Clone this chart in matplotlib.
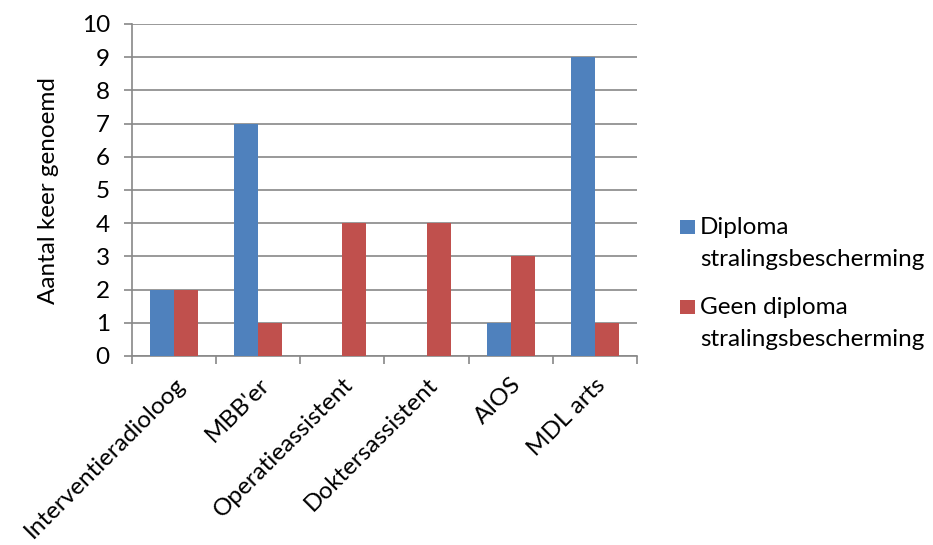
import numpy as np
import matplotlib.pyplot as plt
from matplotlib.patches import Rectangle

plt.rcParams['font.family'] = ['Lato', 'DejaVu Sans']

categories = ['Interventieradioloog', "MBB'er", 'Operatieassistent',
              'Doktersassistent', 'AIOS', 'MDL arts']
diploma = [2, 7, 0, 0, 1, 9]
geen_diploma = [2, 1, 4, 4, 3, 1]
series_names = [['Diploma', 'stralingsbescherming'],
                ['Geen diploma', 'stralingsbescherming']]

blue = '#4F81BD'
red = '#C0504D'
grid = '#888888'
fs = 17.5

fig = plt.figure(figsize=(9.33, 5.45), dpi=100)
ax = fig.add_axes([0.1415, 0.3468, 0.5412, 0.6092])

x = np.arange(len(categories))
w = 0.286
ax.bar(x - w / 2, diploma, width=w, color=blue, zorder=3)
ax.bar(x + w / 2, geen_diploma, width=w, color=red, zorder=3)

ax.set_xlim(-0.5, len(categories) - 0.5)
ax.set_ylim(0, 10)
ax.set_yticks(range(0, 11))
ax.yaxis.grid(True, color=grid, linewidth=1.2, zorder=0)

for s in ['top', 'right']:
    ax.spines[s].set_visible(False)
for s in ['left', 'bottom']:
    ax.spines[s].set_color(grid)
    ax.spines[s].set_linewidth(1.2)

# category boundaries get the tick marks, centres get the labels
ax.set_xticks(np.arange(-0.5, len(categories)), minor=True)
ax.set_xticks(x)
ax.set_xticklabels(categories, rotation=45, ha='right', va='top',
                   rotation_mode='anchor', fontsize=fs)
ax.tick_params(axis='x', which='major', length=0, pad=13)
ax.tick_params(axis='x', which='minor', length=6, width=1.2, color=grid, direction='out')
ax.tick_params(axis='y', length=6, width=1.2, color=grid, direction='out', labelsize=fs, pad=10)

fig.text(0.052, 1 - 191 / 545, 'Aantal keer genoemd', rotation=90,
         ha='center', va='center', fontsize=fs)

# legend on the right, one entry per series, two text lines each
for i, (lines, col) in enumerate(zip(series_names, [blue, red])):
    y0 = 1 - (227 + i * 80) / 545
    fig.patches.append(Rectangle((0.7288, y0 - 0.0125), 0.0165, 0.025, facecolor=col,
                                 transform=fig.transFigure, linewidth=0))
    for j, line in enumerate(lines):
        fig.text(0.7505, y0 - j * 33 / 545, line, fontsize=fs, va='center', ha='left')

fig.savefig('out.png', dpi=100, facecolor='white')
